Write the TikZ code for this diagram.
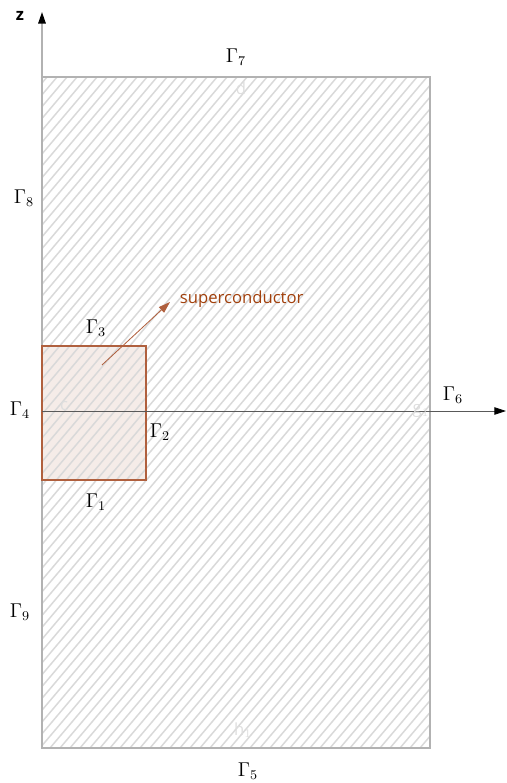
\documentclass[tikz,border=0pt]{standalone}
\usepackage{fontspec}
\usepackage{amsmath}
\usepackage{xcolor}
\usepackage{tikz}
\usetikzlibrary{arrows.meta}
\newfontfamily\sanslabel{Open Sans}
\definecolor{scbrown}{HTML}{B0603E}
\definecolor{sctext}{HTML}{A1400C}
\definecolor{scfill}{HTML}{F5ECE8}

\begin{document}
\begin{tikzpicture}[x=0.6pt,y=-0.6pt,
  gam/.style={font=\large},
  ghost/.style={black!13,font=\sanslabel},
  hatch/.style={black!15,line width=0.9pt}]
  \useasboundingbox (0,0) rectangle (506,783);
  % region corners
  \coordinate (ll) at (42,748);
  \coordinate (ur) at (430,77);
  % --- superconductor block ---
  \fill[scfill] (42,346) rectangle (146,480);
  % --- hatching of the whole region ---
  \begin{scope}
    \clip (ll) rectangle (ur);
    \foreach \i in {-800,-790,...,440} \draw[hatch] (\i,748) -- ++(600,-710);
  \end{scope}
  \draw[black!30,line width=1.5pt] (ll) rectangle (ur);
  \draw[scbrown,line width=1.3pt] (42,346) rectangle (146,480);
  % --- axes ---
  \coordinate (zbot) at (42,77);
  \coordinate (ztop) at (42,12);
  \draw[black!30,line width=1pt,-{Triangle[length=7pt,width=4.5pt,black]}] (zbot) -- (ztop);
  \node[font=\sanslabel\bfseries] (zlab) at (20,16) {z};
  \coordinate (rorig) at (42,411);
  \coordinate (rend) at (506,411);
  \draw[black!65,line width=0.5pt,-{Triangle[length=7pt,width=4.5pt,black]}] (rorig) -- (rend);
  % --- superconductor label ---
  \coordinate (scpt) at (102,365);
  \node[anchor=west,text=sctext,font=\sanslabel] (sclab) at (174,299) {superconductor};
  \draw[scbrown,line width=0.5pt,-{Triangle[length=7pt,width=4.5pt]}] (scpt) -- (170,302);
  % --- boundary labels ---
  \node[gam] (g1) at (96,502) {$\Gamma_1$};
  \node[gam] (g2) at (160,432) {$\Gamma_2$};
  \node[gam] (g3) at (96,328) {$\Gamma_3$};
  \node[gam] (g4) at (20,410) {$\Gamma_4$};
  \node[gam] (g5) at (248,771) {$\Gamma_5$};
  \node[gam] (g6) at (453,395) {$\Gamma_6$};
  \node[gam] (g7) at (236,57) {$\Gamma_7$};
  \node[gam] (g8) at (24,198) {$\Gamma_8$};
  \node[gam] (g9) at (20,612) {$\Gamma_9$};
  % --- corner point names ---
  \node[ghost] (pd) at (241,88) {d};
  \node[ghost] (pc) at (64,406) {c};
  \node[ghost] (pg) at (421,411) {g$_1$};
  \node[ghost] (ph) at (243,730) {h$_1$};
\end{tikzpicture}
\end{document}
